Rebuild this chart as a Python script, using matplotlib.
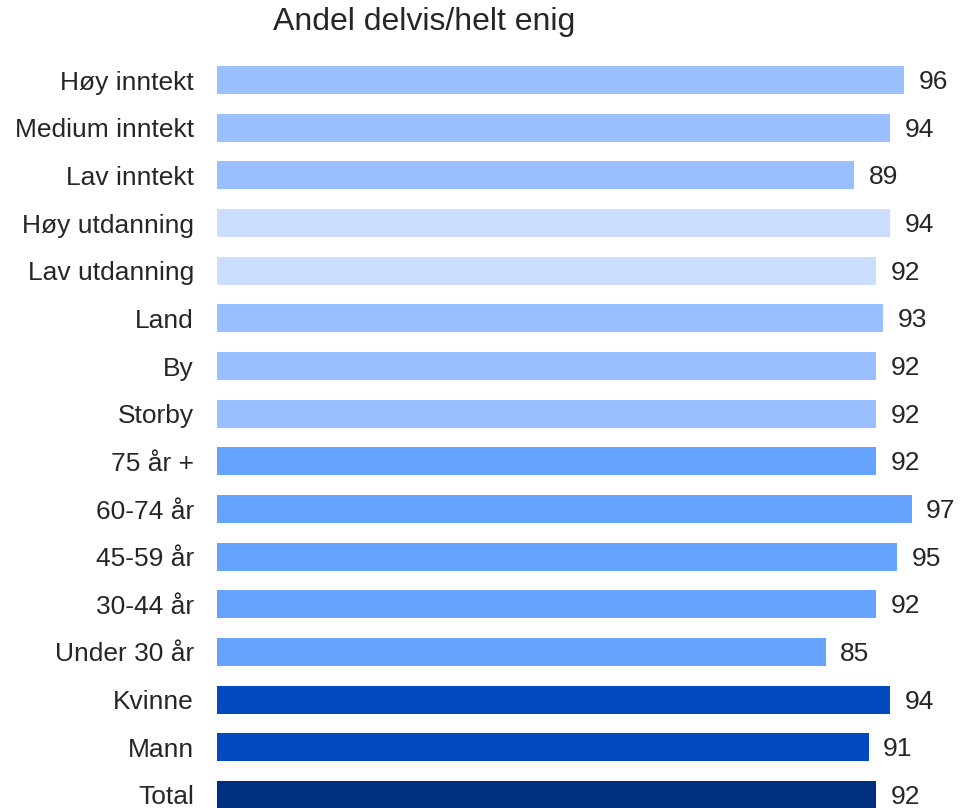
import matplotlib.pyplot as plt

plt.rcParams['font.family'] = ['Liberation Sans', 'DejaVu Sans']

categories = ["Total", "Mann", "Kvinne", "Under 30 år", "30-44 år", "45-59 år",
              "60-74 år", "75 år +", "Storby", "By", "Land", "Lav utdanning",
              "Høy utdanning", "Lav inntekt", "Medium inntekt", "Høy inntekt"]
values = [92, 91, 94, 85, 92, 95, 97, 92, 92, 92, 93, 92, 94, 89, 94, 96]
colors = ["#002F80", "#0049BF", "#0049BF",
          "#66A3FF", "#66A3FF", "#66A3FF", "#66A3FF", "#66A3FF",
          "#99BFFF", "#99BFFF", "#99BFFF",
          "#CCDEFF", "#CCDEFF",
          "#99BFFF", "#99BFFF", "#99BFFF"]

fig = plt.figure(figsize=(9.6, 8.08), dpi=100)
ax = fig.add_axes([217 / 960, 0, 743 / 960, 758 / 808])

y = range(len(categories))
bars = ax.barh(y, values, height=0.59, color=colors)

for yi, v in zip(y, values):
    ax.annotate(str(v), (v, yi), xytext=(10.5, -1.5), textcoords="offset points",
                va="center", ha="left", fontsize=19, color="#262626")

ax.set_yticks(list(y))
ax.set_yticklabels(categories, fontsize=19, color="#262626")
ax.tick_params(axis="y", length=0, pad=16.5)
ax.set_xticks([])
ax.set_xlim(0, 743 / 7.16)
ax.set_ylim(-0.273, 15.63)
for s in ax.spines.values():
    s.set_visible(False)

fig.text(424 / 960, 1 - 22 / 808, "Andel delvis/helt enig", ha="center",
         va="center", fontsize=23, color="#262626")

plt.savefig("out.png", dpi=100)
